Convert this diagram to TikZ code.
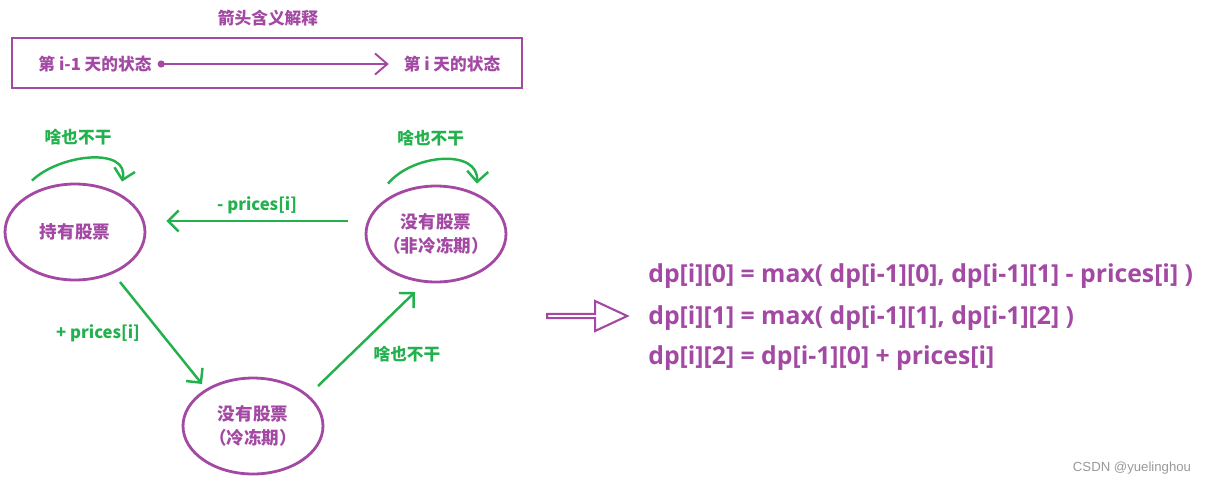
\documentclass[tikz,border=0pt]{standalone}
\usepackage{fontspec}
\newfontfamily\cjk{Noto Sans CJK SC}
\newfontfamily\eqfont{Open Sans}
\newfontfamily\wmfont{Liberation Sans}
\usetikzlibrary{shapes.geometric,shapes.arrows,arrows.meta}
\definecolor{paintpurple}{HTML}{A349A4}
\definecolor{paintgreen}{HTML}{22B14C}
\tikzset{
  state/.style={draw=paintpurple, line width=1.6pt, ellipse, minimum width=2.8cm, minimum height=1.92cm,
    inner xsep=-4pt, inner ysep=0pt, align=center, text=paintpurple, font=\cjk\bfseries\fontsize{10}{13.6}\selectfont},
  move/.style={draw=paintgreen, line width=1.4pt, -{Straight Barb[length=6pt,width=12pt]}},
  movelabel/.style={text=paintgreen, font=\cjk\bfseries\fontsize{9.5}{11}\selectfont},
  legend/.style={text=paintpurple, font=\cjk\bfseries\fontsize{9.5}{11}\selectfont},
  legendbox/.style={draw=paintpurple, line width=1.6pt},
  eq/.style={text=paintpurple, inner sep=0pt, anchor=west, font=\eqfont\bfseries\fontsize{14.1}{16}\selectfont}
}
\begin{document}
\begin{tikzpicture}[x=0.02cm,y=-0.02cm]
  \useasboundingbox (0,0) rectangle (1216,488);

  \node[legend] (head) at (268,18) {箭头含义解释};
  \draw[legendbox] (12,38) rectangle (522,88);
  \node[legend] (prev) at (95,64) {第 i-1 天的状态};
  \node[legend] (cur) at (452,64) {第 i 天的状态};
  \draw[draw=paintpurple, line width=1.1pt, {Circle[length=4pt]}-{Straight Barb[length=7pt,width=12pt]}, shorten >=5pt] (prev) -- (cur);

  \node[state] (hold) at (75,232) {持有股票};
  \node[state] (free) at (436,234) {没有股票\\（非冷冻期）};
  \node[state] (cool) at (253,426) {没有股票\\（冷冻期）};

  \draw[move] ([shift={(-17,-13)}]free.west) -- node[movelabel, above] {- prices[i]} ([shift={(20,-11)}]hold.east);
  \draw[move] ([shift={(45,50)}]hold.center) -- node[movelabel, left=8pt] {+ prices[i]} ([shift={(-51,-42)}]cool.center);
  \draw[move] ([shift={(65,-40)}]cool.center) -- node[movelabel, anchor=north west] {啥也不干} ([shift={(-21,58)}]free.center);
  \draw[move] ([shift={(-43,-2)}]hold.north) .. controls +(28,-27) and +(8,-35) .. node[movelabel, pos=0.4, above=4pt] {啥也不干} ([shift={(47,-1)}]hold.north);
  \draw[move] ([shift={(-48,-1)}]free.north) .. controls +(25,-30) and +(2,-35) .. node[movelabel, pos=0.4, above=4pt] {啥也不干} ([shift={(41,-1)}]free.north);

  \node[draw=paintpurple, line width=1.2pt, single arrow, minimum height=1.6cm, minimum width=0.6cm,
    single arrow head extend=0.13cm, single arrow tip angle=50, inner sep=0pt] (imply) at (585,316) {};

  \node[eq] (dp0) at (648,276) {dp[i][0] = max( dp[i-1][0], dp[i-1][1] - prices[i] )};
  \node[eq] (dp1) at (648,318) {dp[i][1] = max( dp[i-1][1], dp[i-1][2] )};
  \node[eq] (dp2) at (648,358) {dp[i][2] = dp[i-1][0] + prices[i]};

  \node[text=black!40, font=\wmfont\fontsize{7.5}{9}\selectfont] (sign) at (1132,468) {CSDN @yuelinghou};
\end{tikzpicture}
\end{document}
